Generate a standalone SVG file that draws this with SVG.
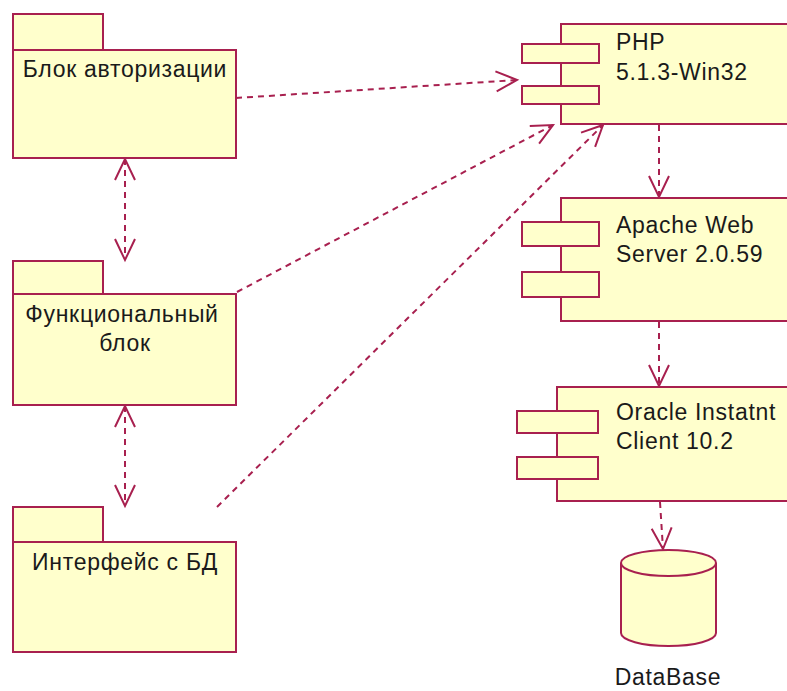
<svg xmlns="http://www.w3.org/2000/svg" width="787" height="691" viewBox="0 0 787 691">
<style>
.box{fill:#ffffcc;stroke:#a8204f;stroke-width:2}
.t{font-family:"Liberation Sans",Arial,sans-serif;font-size:23px;letter-spacing:0.7px;fill:#1a1a1a}
.c{text-anchor:middle}
.dep{fill:none;stroke:#a8204f;stroke-width:2;stroke-dasharray:6 5}
.ah{fill:none;stroke:#a8204f;stroke-width:2;stroke-dasharray:none}
</style>
<defs>
<marker id="arr" markerUnits="userSpaceOnUse" markerWidth="30" markerHeight="30" refX="0" refY="0" viewBox="-25 -15 30 30" orient="auto-start-reverse" overflow="visible">
<path class="ah" d="M -21 -10 L 0 0 L -21 10"/>
</marker>
</defs>
<rect width="787" height="691" fill="#ffffff"/>
<g id="connectors">
<path class="dep" d="M 236 98 L 517 80" marker-end="url(#arr)"/>
<path class="dep" d="M 237 292 L 553 125" marker-end="url(#arr)"/>
<path class="dep" d="M 217 507 L 603 125" marker-end="url(#arr)"/>
<path class="dep" d="M 659 125 L 659 197" marker-end="url(#arr)"/>
<path class="dep" d="M 659 322 L 659 386" marker-end="url(#arr)"/>
<path class="dep" d="M 660 502 L 663 549" marker-end="url(#arr)"/>
<path class="dep" d="M 125 159 L 125 260" marker-start="url(#arr)" marker-end="url(#arr)"/>
<path class="dep" d="M 125 406 L 125 506" marker-start="url(#arr)" marker-end="url(#arr)"/>
</g>
<g id="pkg-auth">
<rect class="box" x="13" y="14" width="90" height="36"/>
<rect class="box" x="13" y="50" width="223" height="108"/>
<text class="t c" x="125" y="77">Блок авторизации</text>
</g>
<g id="pkg-func">
<rect class="box" x="13" y="261" width="90" height="33"/>
<rect class="box" x="13" y="294" width="223" height="111"/>
<text class="t c" x="122" y="322">Функциональный</text>
<text class="t c" x="125" y="351">блок</text>
</g>
<g id="pkg-db">
<rect class="box" x="13" y="507" width="90" height="35"/>
<rect class="box" x="13" y="542" width="223" height="110"/>
<text class="t c" x="125" y="570">Интерфейс с БД</text>
</g>
<g id="comp-php">
<rect class="box" x="561" y="24" width="240" height="100"/>
<rect class="box" x="522" y="44" width="77" height="19"/>
<rect class="box" x="522" y="86" width="77" height="18"/>
<text class="t" x="616" y="50">PHP</text>
<text class="t" x="616" y="80">5.1.3-Win32</text>
</g>
<g id="comp-apache">
<rect class="box" x="561" y="198" width="240" height="123"/>
<rect class="box" x="522" y="222" width="77" height="24"/>
<rect class="box" x="522" y="272" width="77" height="25"/>
<text class="t" x="616" y="233">Apache Web</text>
<text class="t" x="616" y="262">Server 2.0.59</text>
</g>
<g id="comp-oracle">
<rect class="box" x="557" y="387" width="244" height="114"/>
<rect class="box" x="517" y="411" width="81" height="22"/>
<rect class="box" x="517" y="457" width="81" height="22"/>
<text class="t" x="616" y="420">Oracle Instatnt</text>
<text class="t" x="616" y="449">Client 10.2</text>
</g>
<g id="database">
<path class="box" d="M 621 563 L 621 633 A 47.5 13 0 0 0 716 633 L 716 563 A 47.5 13 0 0 0 621 563 Z"/>
<path class="box" fill="none" d="M 621 563 A 47.5 13 0 0 0 716 563"/>
<text class="t c" x="668" y="685">DataBase</text>
</g>
</svg>
